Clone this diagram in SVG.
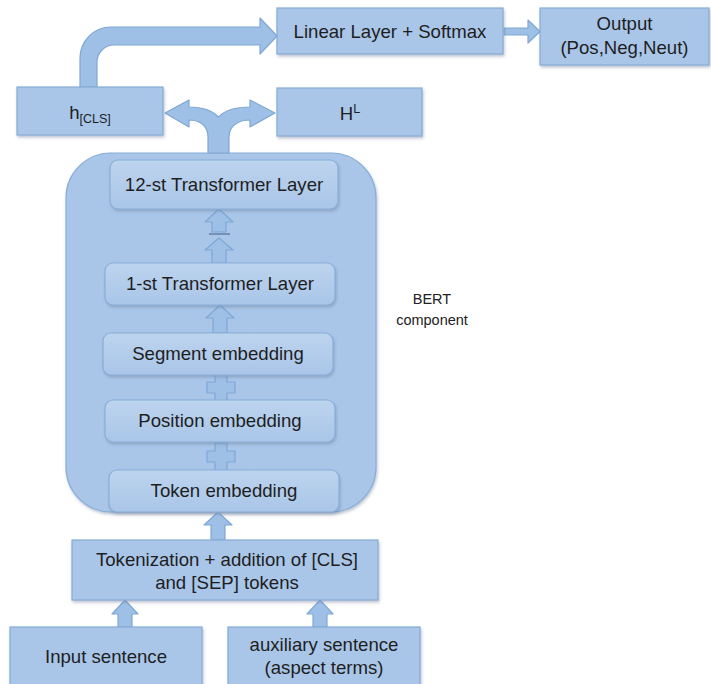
<svg xmlns="http://www.w3.org/2000/svg" width="711" height="684" viewBox="0 0 711 684">
<defs>
<filter id="sh" x="-10%" y="-10%" width="130%" height="140%">
<feDropShadow dx="1" dy="2" stdDeviation="1.5" flood-color="#6a7f99" flood-opacity="0.45"/>
</filter>
<linearGradient id="gin" x1="0" y1="0" x2="0" y2="1">
<stop offset="0" stop-color="#bdd4ee"/>
<stop offset="1" stop-color="#a9c5e8"/>
</linearGradient>
<style>
.box{fill:#a9c6e9;stroke:#87acd6;stroke-width:1.2;filter:url(#sh)}
.inner{fill:url(#gin);stroke:#8aaed8;stroke-width:1.2;filter:url(#sh)}
.bert{fill:#a9c6e9;stroke:#8aaed8;stroke-width:1.2;filter:url(#sh)}
.arr{fill:#9fc0e6;stroke:#7ea7d5;stroke-width:1.2;stroke-linejoin:round}
.t{font-family:"Liberation Sans",Arial,sans-serif;font-size:18.6px;fill:#1e1e1e;text-anchor:middle}
.s{font-family:"Liberation Sans",Arial,sans-serif;font-size:14.5px;fill:#222;text-anchor:middle}
</style>
</defs>
<rect width="711" height="684" fill="#ffffff"/>

<g id="bert">
<rect class="bert" x="66" y="153" width="310" height="359" rx="45"/>
</g>

<g id="connectors">
<path class="arr" d="M80,87 L80,58 A31,31 0 0 1 111,27 L260,27 L260,18 L277,36 L260,54 L260,45 L114,45 A17,17 0 0 0 97,62 L97,87 Z"/>
<path class="arr" d="M504,28 L528,28 L528,20 L540,31.5 L528,43 L528,35 L504,35 Z"/>
<path class="arr" d="M208,153 L208,137 C208,126 200,120 189,120 L189,127 L165,113 L189,100 L189,107 C202,107 212,110 218.5,117 C225,110 236,107 250,107 L250,100 L275,113 L250,127 L250,120 C238,120 229,126 229,137 L229,153 Z"/>
<path class="arr" d="M219,209 L233,222 L226,222 L226,232 L212,232 L212,222 L205,222 Z"/>
<line x1="209" y1="234" x2="230" y2="234" stroke="#4d6f99" stroke-width="1.2"/>
<path class="arr" d="M219,238 L233,250 L226,250 L226,263 L212,263 L212,250 L205,250 Z"/>
<path class="arr" d="M220,305 L234,318 L227,318 L227,333 L213,333 L213,318 L206,318 Z"/>
<path class="arr" d="M215,374 L227,374 L227,382 L235,382 L235,393 L227,393 L227,401 L215,401 L215,393 L207,393 L207,382 L215,382 Z"/>
<path class="arr" d="M215,443 L227,443 L227,451 L235,451 L235,462 L227,462 L227,471 L215,471 L215,462 L207,462 L207,451 L215,451 Z"/>
<path class="arr" d="M218,512 L232,525 L225,525 L225,540 L211,540 L211,525 L204,525 Z"/>
<path class="arr" d="M125,600 L138,614 L132,614 L132,627 L118,627 L118,614 L112,614 Z"/>
<path class="arr" d="M320,600 L333,614 L327,614 L327,627 L313,627 L313,614 L307,614 Z"/>
</g>

<g id="linear">
<rect class="box" x="277" y="8" width="226" height="46"/>
<text class="t" x="390" y="37.5">Linear Layer + Softmax</text>
</g>
<g id="output">
<rect class="box" x="540" y="8" width="169" height="57"/>
<text class="t" x="624.5" y="30">Output</text>
<text class="t" x="624.5" y="54">(Pos,Neg,Neut)</text>
</g>
<g id="hcls">
<rect class="box" x="17" y="87" width="146" height="48"/>
<text class="t" x="90" y="119">h<tspan font-size="12.5" dy="4">[CLS]</tspan></text>
</g>
<g id="hl">
<rect class="box" x="277" y="88" width="145" height="48"/>
<text class="t" x="350" y="120">H<tspan font-size="12.5" dy="-7">L</tspan></text>
</g>

<g id="layer12">
<rect class="inner" x="110" y="160" width="228" height="49" rx="8"/>
<text class="t" x="224" y="191">12-st Transformer Layer</text>
</g>
<g id="layer1">
<rect class="inner" x="105" y="263" width="230" height="42" rx="8"/>
<text class="t" x="220" y="290">1-st Transformer Layer</text>
</g>
<g id="segment">
<rect class="inner" x="103" y="333" width="230" height="42" rx="8"/>
<text class="t" x="218" y="360">Segment embedding</text>
</g>
<g id="position">
<rect class="inner" x="105" y="400" width="230" height="42" rx="8"/>
<text class="t" x="220" y="427">Position embedding</text>
</g>
<g id="token">
<rect class="inner" x="109" y="470" width="230" height="42" rx="8"/>
<text class="t" x="224" y="497">Token embedding</text>
</g>

<g id="bert-label">
<text class="s" x="432" y="304">BERT</text>
<text class="s" x="432" y="325">component</text>
</g>

<g id="tokenization">
<rect class="box" x="72" y="540" width="306" height="60"/>
<text class="t" x="227" y="566">Tokenization + addition of [CLS]</text>
<text class="t" x="227" y="589">and [SEP] tokens</text>
</g>
<g id="input">
<rect class="box" x="10" y="627" width="192" height="62"/>
<text class="t" x="106" y="663">Input sentence</text>
</g>
<g id="aux">
<rect class="box" x="228" y="627" width="192" height="62"/>
<text class="t" x="324" y="651">auxiliary sentence</text>
<text class="t" x="324" y="674">(aspect terms)</text>
</g>
</svg>
